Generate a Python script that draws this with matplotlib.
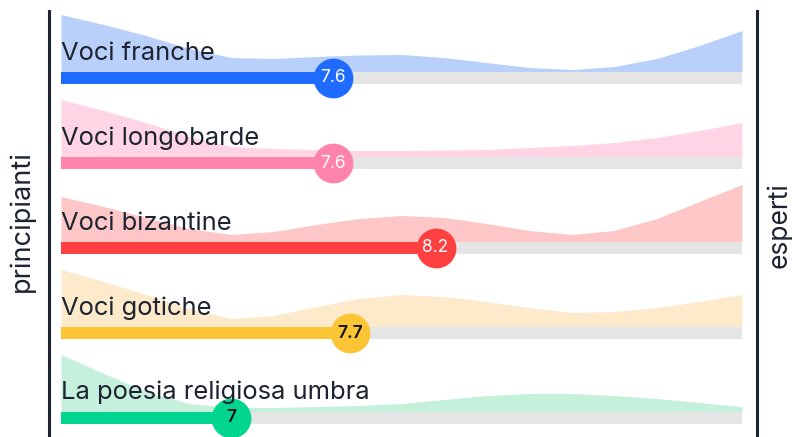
import numpy as np
import matplotlib
matplotlib.use("Agg")
import matplotlib.pyplot as plt

# dati
categorie = ["Voci franche", "Voci longobarde", "Voci bizantine", "Voci gotiche",
             "La poesia religiosa umbra"]
medie = [7.6, 7.6, 8.2, 7.7, 7.0]
etichette = ["7.6", "7.6", "8.2", "7.7", "7"]

# distribuzione dei voti (scala 6-10, passo 0.25)
voti = np.arange(6, 10.01, 0.25)
dens_franche = [57, 47, 36, 23, 14, 13, 15, 16.5, 17, 14, 9, 4, 2, 5, 13, 26, 41]
dens_longobarde = [57, 46, 34, 20, 10, 8, 7, 6, 6, 6.5, 7, 9, 11, 14, 19, 26, 34]
dens_bizantine = [45, 35, 24, 13, 7, 10, 17, 23, 26, 24, 18, 11, 7, 11, 23, 40, 57]
dens_gotiche = [57, 45, 32, 18, 8, 11, 20, 28, 32, 30, 25, 19, 14, 15, 19, 25, 32]
dens_umbra = [57, 38, 20, 8, 4, 4, 5, 6, 8, 12, 16, 18, 18, 16, 13, 9, 5]
densita = [dens_franche, dens_longobarde, dens_bizantine, dens_gotiche, dens_umbra]

col_barra = ["#1f6bff", "#ff83aa", "#ff4040", "#fbc535", "#00d68f"]
col_area = ["#b9d0fb", "#ffd5e5", "#fdc7c7", "#fdeacb", "#c5f0dc"]
col_testo_cerchio = ["white", "white", "white", "#111111", "#111111"]
peso_testo_cerchio = ["normal", "normal", "normal", "semibold", "semibold"]

scuro = "#1d2330"
plt.rcParams["font.family"] = ["Inter", "DejaVu Sans"]

fig = plt.figure(figsize=(7.92, 4.37), dpi=100)
ax = fig.add_axes([61 / 792, 0, 681 / 792, 1])
ax.set_xlim(6, 10)
ax.set_ylim(437, 0)
ax.axis("off")

px = 4 / 681  # unita' di voto per pixel

for i, nome in enumerate(categorie):
    base = 71.5 + 85 * i
    d = np.array(densita[i])
    ax.fill_between(voti, base, base - d, color=col_area[i], lw=0, zorder=1)
    # binario grigio e barra
    ax.fill_between([6, 10], base, base + 12, color="#e5e5e5", lw=0, zorder=2)
    ax.fill_between([6, medie[i]], base, base + 12, color=col_barra[i], lw=0, zorder=3)
    ax.scatter([medie[i]], [base + 6], s=820, color=col_barra[i], lw=0, zorder=4)
    ax.text(medie[i], base + 6.5, etichette[i], ha="center", va="center",
            fontsize=12.5, color=col_testo_cerchio[i],
            fontweight=peso_testo_cerchio[i], zorder=5)
    ax.text(6, base - 12, nome, ha="left", va="baseline", fontsize=18.4,
            color=scuro, zorder=5)

# linee verticali ai lati
ax.plot([6 - 12 * px, 6 - 12 * px], [11, 437], color=scuro, lw=2.2, clip_on=False)
ax.plot([10 + 15 * px, 10 + 15 * px], [11, 437], color=scuro, lw=2.2, clip_on=False)

fig.text(22 / 792, 1 - 221 / 437, "principianti", rotation=90, ha="center",
         va="center", fontsize=19.5, color=scuro)
fig.text(779 / 792, 1 - 225 / 437, "esperti", rotation=90, ha="center",
         va="center", fontsize=19, color=scuro)

fig.savefig("out.png", dpi=100, facecolor="white")
